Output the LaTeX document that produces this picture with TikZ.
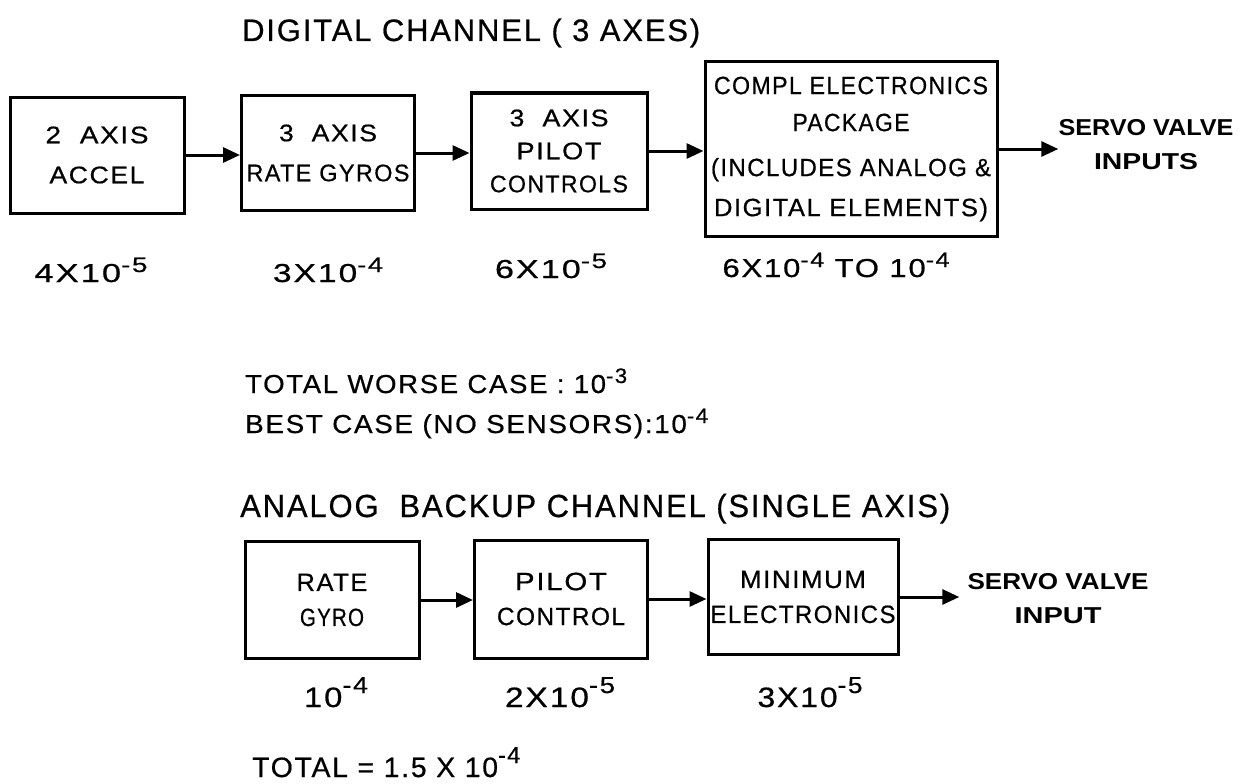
\documentclass[tikz,border=0pt]{standalone}
\usepackage{fontspec}
\usepackage{graphicx}
\setmainfont{Liberation Sans}[FakeBold=0.6,LetterSpace=6]
\newfontfamily\boldf{Liberation Sans Bold}
\usetikzlibrary{arrows.meta}
\newcommand\fit[2]{\resizebox{#1pt}{\height}{#2}}
\newcommand\sx[1]{\raisebox{10pt}{\fontsize{21}{21}\selectfont #1}}
\newcommand\sy[1]{\raisebox{14pt}{\fontsize{23}{23}\selectfont #1}}
\begin{document}
\begin{tikzpicture}[x=1pt,y=-1pt,
  blk/.style={draw, line width=3pt, inner sep=0pt, align=center, font=\fontsize{24}{40}\selectfont},
  arr/.style={line width=3pt, -{Triangle[length=17pt,width=15pt]}},
  ttl/.style={anchor=base west, inner sep=0pt, font=\fontsize{31}{31}\selectfont},
  num/.style={anchor=base, inner sep=0pt, font=\fontsize{26}{26}\selectfont},
  note/.style={anchor=base west, inner sep=0pt, font=\fontsize{26}{26}\selectfont},
  outtxt/.style={inner sep=0pt, align=center, font=\boldf\fontsize{23}{34}\selectfont}]
\useasboundingbox (0,0) rectangle (1248,784);

% digital channel
\node[ttl] (t1) at (242,41) {\fit{458}{DIGITAL CHANNEL ( 3 AXES)}};
\node[blk, minimum width=174pt, minimum height=116pt] (b1) at (97,155) {\fit{103}{2\ \ AXIS}\\\fit{95}{ACCEL}};
\node[blk, minimum width=173pt, minimum height=115pt] (b2) at (328,153) {\fit{98}{3\ \ AXIS}\\\fit{163}{RATE GYROS}};
\node[blk, minimum width=176pt, minimum height=116pt, font=\fontsize{24}{33}\selectfont] (b3) at (559,151) {\fit{99}{3\ \ AXIS}\\\fit{85}{PILOT}\\\fit{138}{CONTROLS}};
\node[blk, minimum width=292pt, minimum height=174pt, font=\fontsize{25}{40}\selectfont] (b4) at (851,149) {\fit{274}{COMPL ELECTRONICS}\\[-3pt]\fit{117}{PACKAGE}\\[5pt]\fit{280}{(INCLUDES ANALOG \&}\\\fit{274}{DIGITAL ELEMENTS)}};
\node[outtxt] (o1) at (1146,145) {\fit{175}{SERVO VALVE}\\\fit{104}{INPUTS}};

\draw[arr] (b1.east) -- (b1.east -| b2.west);
\draw[arr] (b2.east) -- (b2.east -| b3.west);
\draw[arr] (b3.east) -- (b3.east -| b4.west);
\draw[arr] (b4.east) -- (b4.east -| o1.west);

\node[num] (n1) at (91,282) {\fit{113}{4X10\sx{-5}}};
\node[num] (n2) at (328,282) {\fit{110}{3X10\sx{-4}}};
\node[num] (n3) at (551,278) {\fit{112}{6X10\sx{-5}}};
\node[num] (n4) at (836,277) {\fit{227}{6X10\sx{-4} TO 10\sx{-4}}};

\node[note] (w1) at (245,393) {\fit{382}{TOTAL WORSE CASE : 10\sx{-3}}};
\node[note] (w2) at (245,433) {\fit{463}{BEST CASE (NO SENSORS):10\sx{-4}}};

% analog backup channel
\node[ttl, font=\fontsize{32}{32}\selectfont] (t2) at (240,517) {\fit{710}{ANALOG\ \ BACKUP CHANNEL (SINGLE AXIS)}};
\node[blk, minimum width=174pt, minimum height=117pt, font=\fontsize{25}{35}\selectfont] (c1) at (332,600) {\fit{71}{RATE}\\\fit{64}{GYRO}};
\node[blk, minimum width=173pt, minimum height=118pt, font=\fontsize{25}{35}\selectfont] (c2) at (561,599) {\fit{92}{PILOT}\\\fit{128}{CONTROL}};
\node[blk, minimum width=190pt, minimum height=115pt, font=\fontsize{25}{35}\selectfont] (c3) at (803,597) {\fit{126}{MINIMUM}\\\fit{185}{ELECTRONICS}};
\node[outtxt] (o2) at (1058,599) {\fit{181}{SERVO VALVE}\\\fit{87}{INPUT}};

\draw[arr] (c1.east) -- (c1.east -| c2.west);
\draw[arr] (c2.east) -- (c2.east -| c3.west);
\draw[arr, shorten >=8pt] (c3.east) -- (c3.east -| o2.west);

\node[num, font=\fontsize{28}{28}\selectfont] (m1) at (336,707) {\fit{64}{10\sy{-4}}};
\node[num, font=\fontsize{28}{28}\selectfont] (m2) at (560,707) {\fit{110}{2X10\sy{-5}}};
\node[num, font=\fontsize{28}{28}\selectfont] (m3) at (810,707) {\fit{105}{3X10\sy{-5}}};

\node[note, font=\fontsize{28}{28}\selectfont] (tot) at (252,777) {\fit{268}{TOTAL = 1.5 X 10\sy{-4}}};
\end{tikzpicture}
\end{document}
